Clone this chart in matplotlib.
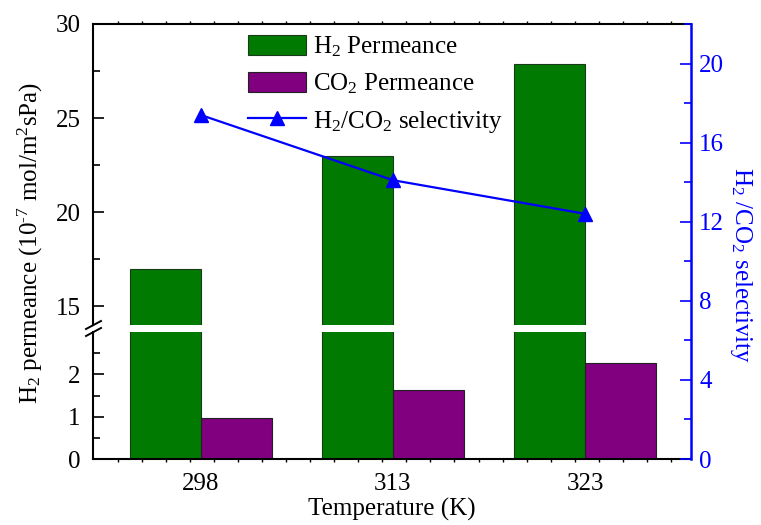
import numpy as np
import matplotlib
matplotlib.use("Agg")
import matplotlib.pyplot as plt
from matplotlib.ticker import MultipleLocator, FixedLocator

plt.rcParams['font.family'] = ['Liberation Serif', 'DejaVu Serif']
plt.rcParams['mathtext.fontset'] = 'custom'
plt.rcParams['mathtext.rm'] = 'Liberation Serif'
plt.rcParams['mathtext.it'] = 'Liberation Serif:italic'

temps = ['298', '313', '323']
h2_perm = [17.0, 23.0, 27.9]
co2_perm = [0.97, 1.63, 2.27]
selectivity = [17.4, 14.1, 12.4]

green = '#007a00'
purple = '#800080'
blue = '#0000ff'
fs = 18

W, H = 761, 525
fig = plt.figure(figsize=(W / 100, H / 100), dpi=100)

def box(x0, y0, x1, y1):
    # pixel box (top-left origin) -> figure fraction rect
    return [x0 / W, 1 - y1 / H, (x1 - x0) / W, (y1 - y0) / H]

ax_top = fig.add_axes(box(93, 24, 691, 325))
ax_bot = fig.add_axes(box(93, 332, 691, 459))
ax_r = fig.add_axes(box(93, 24, 691, 459))
ax_r.patch.set_visible(False)

x = np.arange(len(temps))
bw = 0.37
xlim = (-0.56, 2.55)

bars = []
for ax in (ax_top, ax_bot):
    b1 = ax.bar(x - bw / 2, h2_perm, bw, color=green, edgecolor='#1a3a1a', linewidth=0.8)
    b2 = ax.bar(x + bw / 2, co2_perm, bw, color=purple, edgecolor='#222222', linewidth=0.8)
    bars = [b1, b2]
    ax.set_xlim(*xlim)
    ax.spines['right'].set_visible(False)
    ax.tick_params(axis='y', direction='in', length=8, width=1.2, labelsize=fs, pad=9)
    ax.tick_params(axis='y', which='minor', direction='in', length=5, width=1.2)
    for s in ax.spines.values():
        s.set_linewidth(1.5)

ax_top.set_ylim(14, 30)
ax_top.yaxis.set_major_locator(FixedLocator([15, 20, 25, 30]))
ax_top.yaxis.set_minor_locator(FixedLocator([17.5, 22.5, 27.5]))
ax_top.spines['bottom'].set_visible(False)
ax_top.tick_params(axis='x', which='both', bottom=False, labelbottom=False)
ax_top.xaxis.set_minor_locator(FixedLocator(np.arange(-0.43, 2.55, 0.125)))
ax_top.tick_params(axis='x', which='minor', top=True, direction='out', length=2, width=1)

ax_bot.set_ylim(0, 3)
ax_bot.yaxis.set_major_locator(FixedLocator([0, 1, 2]))
ax_bot.yaxis.set_minor_locator(FixedLocator([0.5, 1.5, 2.5]))
ax_bot.spines['top'].set_visible(False)
ax_bot.set_xticks(x)
ax_bot.set_xticklabels(temps)
ax_bot.xaxis.set_minor_locator(FixedLocator(np.arange(-0.43, 2.55, 0.125)))
ax_bot.tick_params(axis='x', which='major', length=0, labelsize=fs, pad=10)
ax_bot.tick_params(axis='x', which='minor', direction='out', length=2, width=1)

# right axis for selectivity
line, = ax_r.plot(x, selectivity, color=blue, lw=1.6, marker='^', markersize=10)
ax_r.set_xlim(*xlim)
ax_r.set_ylim(0, 22)
for side in ('left', 'top', 'bottom'):
    ax_r.spines[side].set_visible(False)
ax_r.spines['right'].set_color(blue)
ax_r.spines['right'].set_linewidth(1.8)
ax_r.set_xticks([])
ax_r.yaxis.tick_right()
ax_r.yaxis.set_major_locator(MultipleLocator(4))
ax_r.yaxis.set_minor_locator(MultipleLocator(2))
ax_r.tick_params(axis='y', which='major', direction='in', length=8, width=1.2,
                 colors=blue, labelsize=fs, pad=6)
ax_r.tick_params(axis='y', which='minor', direction='in', length=5, width=1.2, colors=blue)

# break marks on the left spine
for dy in (-3.5, 3.5):
    yc = 328.5 + dy
    fig.add_artist(plt.Line2D([86 / W, 101 / W], [1 - (yc + 4) / H, 1 - (yc - 4) / H],
                              color='black', lw=1.4, transform=fig.transFigure))

leg = ax_r.legend([bars[0], bars[1], line],
                  ['H$_2$ Permeance', 'CO$_2$ Permeance', 'H$_2$/CO$_2$ selectivity'],
                  loc='upper left', bbox_to_anchor=(0.222, 1.028), frameon=False,
                  fontsize=fs, handlelength=2.3, handleheight=0.85,
                  labelspacing=0.5, handletextpad=0.3)

fig.text(30 / W, 1 - 243 / H, 'H$_2$ permeance (10$^{\\text{-}7}$ mol/m$^2$sPa)',
         rotation=90, ha='center', va='center', fontsize=fs)
fig.text(741 / W, 1 - 265 / H, 'H$_2$ /CO$_2$ selectivity', rotation=270,
         ha='center', va='center', fontsize=fs, color=blue)
fig.text(392 / W, 1 - 509 / H, 'Temperature (K)', ha='center', va='center', fontsize=fs)

fig.savefig('out.png', dpi=100)
